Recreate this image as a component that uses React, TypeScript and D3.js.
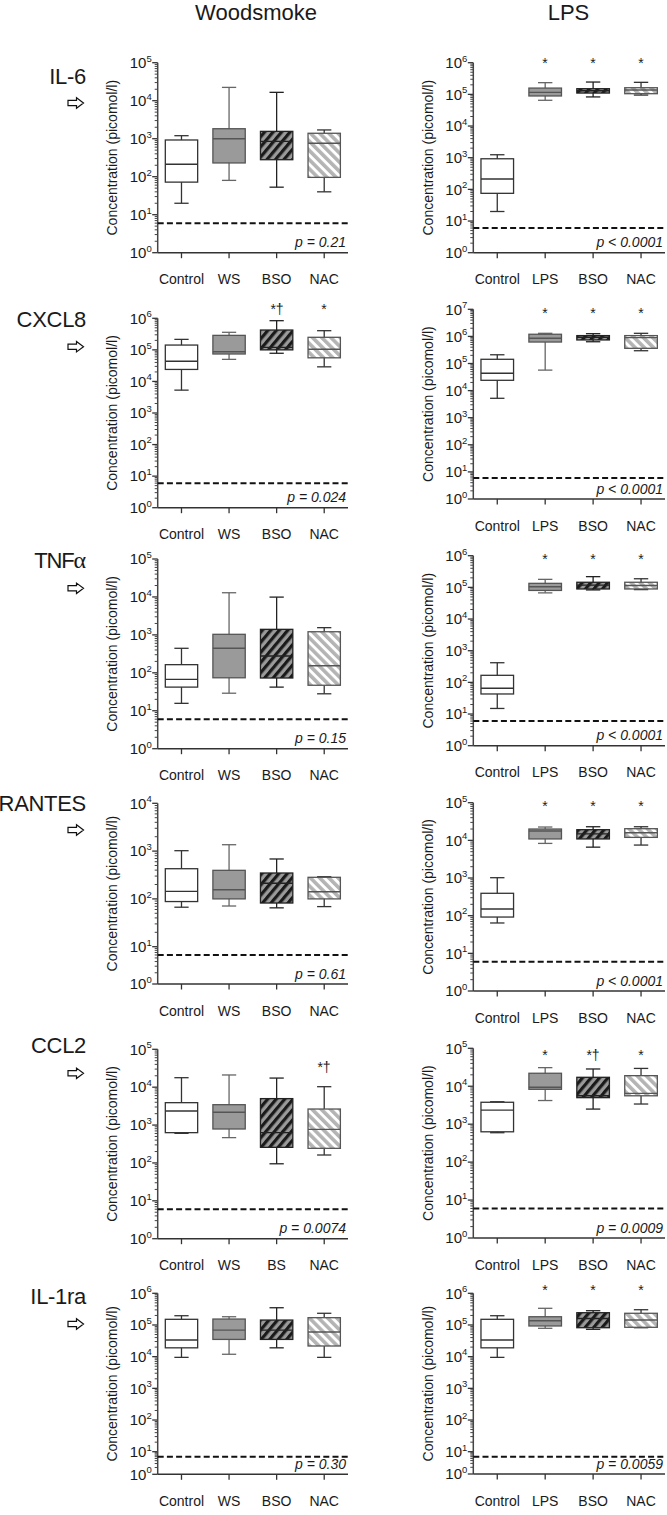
import React from "react";
import * as d3 from "d3";

const WS_GROUPS = ["Control", "WS", "BSO", "NAC"];
const WS_GROUPS_CCL2 = ["Control", "WS", "BS", "NAC"];
const LPS_GROUPS = ["Control", "LPS", "BSO", "NAC"];
const COLUMN_TITLES = ["Woodsmoke", "LPS"];
const ANALYTES = ["IL-6", "CXCL8", "TNF", "RANTES", "CCL2", "IL-1ra"];
const LOD = 6;
const Y_LABEL = "Concentration (picomol/l)";

// [lower whisker, Q1, median, Q3, upper whisker]
const IL6_WS = [[20, 72, 212, 925, 1200], [80, 230, 1000, 1830, 22400], [53, 280, 850, 1560, 16600], [40, 96, 760, 1390, 1700]];
const IL6_LPS = [[20, 75, 212, 925, 1240], [65000, 89000, 116000, 158000, 234000], [83000, 110000, 130000, 151000, 245000], [95000, 105000, 137000, 162000, 240000]];
const CXCL8_WS = [[5300, 24000, 43500, 142000, 215000], [50000, 74000, 87000, 288000, 360000], [78000, 100000, 120000, 425000, 840000], [29000, 56000, 105000, 250000, 405000]];
const CXCL8_LPS = [[5200, 24000, 43500, 143000, 210000], [57000, 620000, 850000, 1200000, 1300000], [635000, 740000, 930000, 1070000, 1260000], [296000, 363000, 900000, 1070000, 1300000]];
const TNF_WS = [[15.7, 42, 67, 164, 443], [29, 74, 443, 1035, 12900], [42, 73, 277, 1400, 9900], [28, 47, 154, 1210, 1550]];
const TNF_LPS = [[15, 43, 65, 167, 417], [67000, 80000, 105000, 134000, 179000], [83000, 89000, 118000, 145000, 218000], [85000, 89000, 115000, 145000, 187000]];
const RANTES_WS = [[67, 88, 144, 428, 1020], [71, 100, 155, 396, 1360], [65, 82, 212, 348, 684], [69, 100, 141, 283, 291]];
const RANTES_LPS = [[64, 92, 151, 393, 1020], [8300, 10900, 17800, 20000, 22600], [6600, 10900, 14900, 19200, 23000], [7500, 12000, 15900, 20400, 23000]];
const CCL2_WS = [[605, 630, 2350, 3900, 17800], [466, 787, 2170, 3450, 21000], [95, 258, 630, 4990, 17400], [162, 243, 770, 2650, 10300]];
const CCL2_LPS = [[596, 630, 2350, 3780, 3900], [4200, 8300, 9400, 22000, 30900], [2500, 5000, 5600, 17200, 28500], [3400, 5600, 6500, 19000, 29500]];
const IL1RA_WS = [[9500, 19000, 33600, 151000, 196000], [11900, 35000, 69000, 154000, 182000], [19000, 35000, 69000, 143000, 350000], [9500, 21700, 60000, 170000, 234000]];
const IL1RA_LPS = [[9500, 19000, 33600, 151000, 196000], [78500, 93000, 136000, 182000, 336000], [73000, 82000, 160000, 244000, 282000], [82000, 84500, 143000, 234000, 303000]];

const P_WS = ["p = 0.21", "p = 0.024", "p = 0.15", "p = 0.61", "p = 0.0074", "p = 0.30"];
const P_LPS = ["p < 0.0001", "p < 0.0001", "p < 0.0001", "p < 0.0001", "p = 0.0009", "p = 0.0059"];

const NO_MARKS = ["", "", "", ""];
const CXCL8_WS_MARKS = ["", "", "*†", "*"];
const CCL2_WS_MARKS = ["", "", "", "*†"];
const LPS_MARKS = ["", "*", "*", "*"];
const CCL2_LPS_MARKS = ["", "*", "*†", "*"];

const MAX_EXP_WS = [5, 6, 5, 4, 5, 6];
const MAX_EXP_LPS = [6, 7, 6, 5, 5, 6];

const WS_DATA = [IL6_WS, CXCL8_WS, TNF_WS, RANTES_WS, CCL2_WS, IL1RA_WS];
const LPS_DATA = [IL6_LPS, CXCL8_LPS, TNF_LPS, RANTES_LPS, CCL2_LPS, IL1RA_LPS];
const WS_MARKS = [NO_MARKS, CXCL8_WS_MARKS, NO_MARKS, NO_MARKS, CCL2_WS_MARKS, NO_MARKS];
const LPS_MARK_SETS = [LPS_MARKS, LPS_MARKS, LPS_MARKS, LPS_MARKS, CCL2_LPS_MARKS, LPS_MARKS];
const WS_GROUP_SETS = [WS_GROUPS, WS_GROUPS, WS_GROUPS, WS_GROUPS, WS_GROUPS_CCL2, WS_GROUPS];

// ---- layout (pixel geometry) ----
const COLS = [
  { x0: 157.7, x1: 348, titleX: 256 },
  { x0: 473.3, x1: 665, titleX: 568.5 },
];
const ROW_LAYOUT = [
  { headY: 84, arrowY: 103, L: { top: 62.7, bottom: 252.7, markY: 0 }, R: { top: 62.7, bottom: 252.7, markY: 60 } },
  { headY: 326.7, arrowY: 346.7, L: { top: 318.3, bottom: 507.7, markY: 306 }, R: { top: 309.3, bottom: 499, markY: 310 } },
  { headY: 568.3, arrowY: 588.3, L: { top: 559, bottom: 748.7, markY: 0 }, R: { top: 555.7, bottom: 745.7, markY: 556 } },
  { headY: 810.7, arrowY: 830, L: { top: 803.3, bottom: 984, y10: 946.7, markY: 0 }, R: { top: 802.7, bottom: 991, markY: 803.3 } },
  { headY: 1053.3, arrowY: 1073.3, L: { top: 1049.3, bottom: 1238.7, markY: 1064 }, R: { top: 1048.3, bottom: 1238, markY: 1052 } },
  { headY: 1304.3, arrowY: 1324, L: { top: 1293.3, bottom: 1474.3, y10: 1451.7, markY: 0 }, R: { top: 1293.3, bottom: 1474, y10: 1451.7, markY: 1287.3 } },
];

const BOX_STYLES = [
  { fill: "#ffffff", stroke: "#333333", whisker: "#333333" },
  { fill: "#9a9a9a", stroke: "#555555", whisker: "#666666" },
  { fill: "url(#hatchBSO)", stroke: "#222222", whisker: "#222222" },
  { fill: "url(#hatchNAC)", stroke: "#555555", whisker: "#333333" },
];

const FONT = "'Liberation Sans', Arial, Helvetica, sans-serif";
const INK = "#1a1a1a";

type PanelProps = {
  x0: number; x1: number; top: number; bottom: number; y10?: number; maxExp: number;
  groups: string[]; data: number[][]; marks: string[]; markY: number; pText: string;
};

function Panel(p: PanelProps) {
  const y10 = p.y10 ?? p.bottom - (p.bottom - p.top) / p.maxExp;
  const y = d3.scaleLog().domain([1, 10, Math.pow(10, p.maxExp)]).range([p.bottom, y10, p.top]);
  const xb = d3.scaleBand().domain(p.groups).range([p.x0, p.x1]);
  const bw = xb.bandwidth();
  const boxW = bw * 0.68;
  const capW = bw * 0.3;
  const majors = d3.range(0, p.maxExp + 1);
  const minors: number[] = [];
  for (let e = 0; e < p.maxExp; e++) for (let k = 2; k <= 9; k++) minors.push(k * Math.pow(10, e));
  const ax = p.x0;
  return (
    <g>
      {minors.map((v, i) => (
        <line key={"mi" + i} x1={ax - 3} x2={ax} y1={y(v)} y2={y(v)} stroke="#444" strokeWidth={1} />
      ))}
      {majors.map((e) => (
        <g key={"ma" + e}>
          <line x1={ax - 5.5} x2={ax} y1={y(Math.pow(10, e))} y2={y(Math.pow(10, e))} stroke="#333" strokeWidth={1.3} />
          <text x={ax - 6} y={y(Math.pow(10, e)) + 5.3} textAnchor="end" fontSize={15} fill={INK}>
            10<tspan dy={-6.5} fontSize={9.5}>{e}</tspan>
          </text>
        </g>
      ))}
      <line x1={ax} x2={ax} y1={p.top} y2={p.bottom} stroke="#444" strokeWidth={1.5} />
      <line x1={ax} x2={p.x1} y1={p.bottom} y2={p.bottom} stroke="#333" strokeWidth={1.5} />
      {p.groups.map((g) => {
        const cx = (xb(g) as number) + bw / 2;
        return (
          <g key={"xt" + g}>
            <line x1={cx} x2={cx} y1={p.bottom} y2={p.bottom + 5.5} stroke="#333" strokeWidth={1.3} />
            <text x={cx} y={p.bottom + 31.6} textAnchor="middle" fontSize={14} fill={INK}>{g}</text>
          </g>
        );
      })}
      <text transform={`translate(${ax - 40.3},${(p.top + p.bottom) / 2}) rotate(-90)`} textAnchor="middle" fontSize={14} fill={INK}>
        {Y_LABEL}
      </text>
      <line x1={ax} x2={p.x1} y1={y(LOD)} y2={y(LOD)} stroke="#111" strokeWidth={2} strokeDasharray="6,3.2" />
      {p.groups.map((g, i) => {
        const [lo, q1, med, q3, hi] = p.data[i];
        const cx = (xb(g) as number) + bw / 2;
        const st = BOX_STYLES[i];
        return (
          <g key={"bx" + g}>
            <line x1={cx} x2={cx} y1={y(lo)} y2={y(hi)} stroke={st.whisker} strokeWidth={1.3} />
            <line x1={cx - capW / 2} x2={cx + capW / 2} y1={y(lo)} y2={y(lo)} stroke={st.whisker} strokeWidth={1.3} />
            <line x1={cx - capW / 2} x2={cx + capW / 2} y1={y(hi)} y2={y(hi)} stroke={st.whisker} strokeWidth={1.3} />
            <rect x={cx - boxW / 2} y={y(q3)} width={boxW} height={y(q1) - y(q3)} fill={st.fill} stroke={st.stroke} strokeWidth={1.3} />
            <line x1={cx - boxW / 2} x2={cx + boxW / 2} y1={y(med)} y2={y(med)} stroke={st.stroke} strokeWidth={1.4} />
            {p.marks[i] ? (
              <text x={Math.round(cx)} y={p.markY + 8} textAnchor="middle" fontSize={14} fill={INK} opacity={0.99}>{p.marks[i]}</text>
            ) : null}
          </g>
        );
      })}
      <text x={p.x1 - 2} y={p.bottom - 5.3} textAnchor="end" fontSize={14} fontStyle="italic" fill={INK}>{p.pText}</text>
    </g>
  );
}

function Arrow({ cy }: { cy: number }) {
  const path = d3.path();
  path.moveTo(68, cy - 2.6);
  path.lineTo(76.5, cy - 2.6);
  path.lineTo(76.5, cy - 5.2);
  path.lineTo(83.5, cy);
  path.lineTo(76.5, cy + 5.2);
  path.lineTo(76.5, cy + 2.6);
  path.lineTo(68, cy + 2.6);
  path.closePath();
  return <path d={path.toString()} fill="#fff" stroke="#111" strokeWidth={1.2} strokeLinejoin="miter" />;
}

export default function App() {
  return (
    <svg width={667} height={1515} style={{ position: "absolute", left: 0, top: 0, background: "#fff" }} fontFamily={FONT}>
      <defs>
        <pattern id="hatchBSO" patternUnits="userSpaceOnUse" width={6.5} height={6.5} patternTransform="rotate(40)">
          <rect width={6.5} height={6.5} fill="#9a9a9a" />
          <rect width={3.2} height={6.5} fill="#1a1a1a" />
        </pattern>
        <pattern id="hatchNAC" patternUnits="userSpaceOnUse" width={6.5} height={6.5} patternTransform="rotate(-45)">
          <rect width={6.5} height={6.5} fill="#ffffff" />
          <rect width={3.6} height={6.5} fill="#b4b4b4" />
        </pattern>
      </defs>
      <rect width={667} height={1515} fill="#fff" />
      {COLUMN_TITLES.map((t, i) => (
        <text key={t} x={COLS[i].titleX} y={20.2} textAnchor="middle" fontSize={22} fill={INK}>{t}</text>
      ))}
      {ROW_LAYOUT.map((row, r) => (
        <g key={"row" + r}>
          <text x={86} y={row.headY} textAnchor="end" fontSize={22} fill={INK} letterSpacing={r === 2 ? -1.2 : -0.3}>
            {ANALYTES[r]}
            {r === 2 ? <tspan fontFamily="'Liberation Serif', 'DejaVu Serif', serif" fontSize={24} letterSpacing={0}>α</tspan> : null}
          </text>
          <Arrow cy={row.arrowY} />
          <Panel
            x0={COLS[0].x0} x1={COLS[0].x1} top={row.L.top} bottom={row.L.bottom} y10={row.L.y10}
            maxExp={MAX_EXP_WS[r]} groups={WS_GROUP_SETS[r]} data={WS_DATA[r]} marks={WS_MARKS[r]}
            markY={row.L.markY} pText={P_WS[r]}
          />
          <Panel
            x0={COLS[1].x0} x1={COLS[1].x1} top={row.R.top} bottom={row.R.bottom} y10={row.R.y10}
            maxExp={MAX_EXP_LPS[r]} groups={LPS_GROUPS} data={LPS_DATA[r]} marks={LPS_MARK_SETS[r]}
            markY={row.R.markY} pText={P_LPS[r]}
          />
        </g>
      ))}
    </svg>
  );
}
